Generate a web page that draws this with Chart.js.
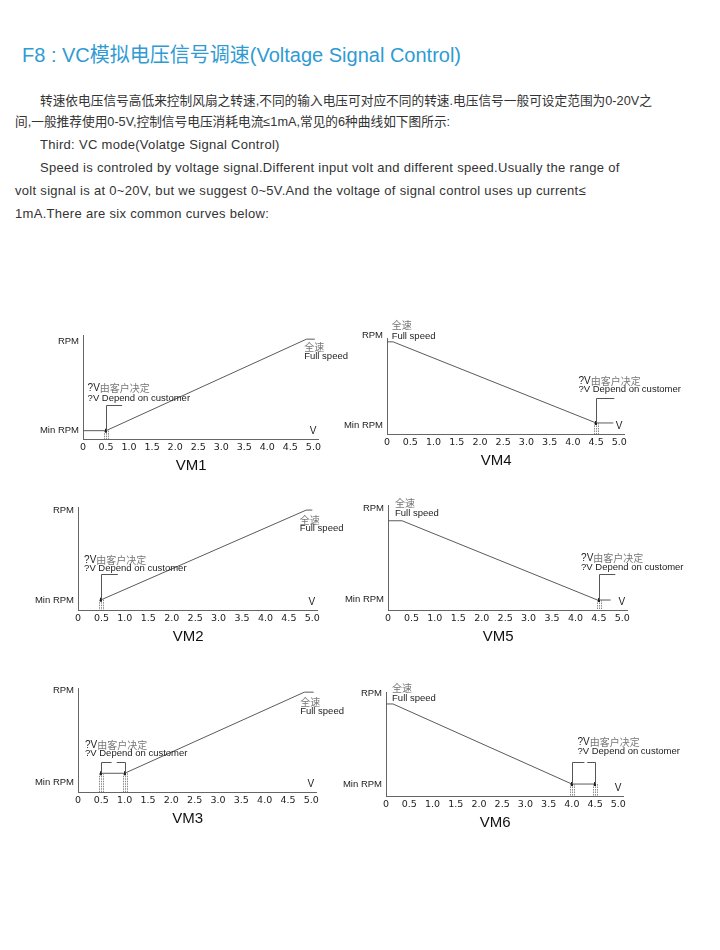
<!DOCTYPE html>
<html>
<head>
<meta charset="utf-8">
<title>VC mode curves</title>
<script src="https://cdn.jsdelivr.net/npm/chart.js@4.4.0/dist/chart.umd.min.js"></script>
<style>
  body { margin: 0; background: #fff; }
  #page { position: relative; width: 720px; height: 950px; overflow: hidden; font-family: "Liberation Sans", "Noto Sans CJK SC", sans-serif; }
  .h { position: absolute; left: 22px; top: 44px; font-size: 20px; line-height: 22px; color: #2f9bd3; white-space: nowrap; }
  .p { position: absolute; font-size: 13px; letter-spacing: 0.3px; line-height: 16px; color: #333; white-space: nowrap; }
  .cjk { font-size: 12.7px; letter-spacing: 0; }
  canvas { position: absolute; }
</style>
</head>
<body>
<div id="page">
  <div class="h">F8 : VC模拟电压信号调速(Voltage Signal Control)</div>
  <div class="p cjk" style="left:40px;top:93px">转速依电压信号高低来控制风扇之转速,不同的输入电压可对应不同的转速.电压信号一般可设定范围为0-20V之</div>
  <div class="p cjk" style="left:15px;top:114px">间,一般推荐使用0-5V,控制信号电压消耗电流≤1mA,常见的6种曲线如下图所示:</div>
  <div class="p" style="left:40px;top:137px">Third: VC mode(Volatge Signal Control)</div>
  <div class="p" style="left:40px;top:160px">Speed is controled by voltage signal.Different input volt and different speed.Usually the range of</div>
  <div class="p" style="left:15px;top:183px">volt signal is at 0~20V, but we suggest 0~5V.And the voltage of signal control uses up current≤</div>
  <div class="p" style="left:15px;top:206px">1mA.There are six common curves below:</div>
</div>
<script>
// Voltage axis shared by all six curves
const voltTicks = [0, 0.5, 1, 1.5, 2, 2.5, 3, 3.5, 4, 4.5, 5];
const voltLabels = ['0', '0.5', '1.0', '1.5', '2.0', '2.5', '3.0', '3.5', '4.0', '4.5', '5.0'];
const rpmLabels = ['Min RPM', 'RPM'];
const curveNames = ['VM1', 'VM2', 'VM3', 'VM4', 'VM5', 'VM6'];

// Curve breakpoints: volts and RPM (0 = axis, 100 = top of axis)
const vm1Volts = [0, 0.5, 4.85, 5.03];
const vm1Rpm = [8, 8, 96, 96];
const vm2Volts = [0.5, 4.87, 5.0];
const vm2Rpm = [10, 97, 97];
const vm3Volts = [0.5, 1.0, 4.85, 5.05];
const vm3Rpm = [18, 18, 96, 96];
const vm4Volts = [0, 0.13, 4.5, 4.87];
const vm4Rpm = [96, 96, 11.5, 11.5];
const vm5Volts = [0, 0.3, 4.47, 4.75];
const vm5Rpm = [85, 85, 9.5, 9.5];
const vm6Volts = [0, 0.15, 4.0, 4.5];
const vm6Rpm = [88.5, 88.5, 11.5, 11.5];

// Voltages set by the customer (hatched boxes)
const customVolts = [[0.5], [0.5], [0.5, 1.0], [4.5], [4.5], [4.0, 4.5]];
const minRpmLevel = [8, 10, 18, 11.5, 9.5, 11.5];

// Where the y axis labels sit
const minLabelAt = [8, 9, 9, 9.4, 10.5, 11.5];
const rpmLabelAt = [94, 97, 98, 103, 97, 99];

// Annotation texts
const noteCn = '由客户决定';
const noteEn = '?V Depend on customer';
const fullCn = '全速';
const fullEn = 'Full speed';

const series = [
    [vm1Volts, vm1Rpm], [vm2Volts, vm2Rpm], [vm3Volts, vm3Rpm],
    [vm4Volts, vm4Rpm], [vm5Volts, vm5Rpm], [vm6Volts, vm6Rpm]
];

// Page position of each plot area (axis corner) and px per volt
const frames = [
    { left: 83, top: 335, bottom: 439, ppv: 46.0 },
    { left: 78, top: 507, bottom: 610, ppv: 46.8 },
    { left: 78, top: 688, bottom: 792, ppv: 46.6 },
    { left: 387, top: 338, bottom: 434, ppv: 46.4 },
    { left: 388, top: 505, bottom: 610, ppv: 46.8 },
    { left: 386, top: 692, bottom: 796, ppv: 46.4 }
];

// Placement of leader lines and notes, in axis units
const notes = [
    { leaderTop: 33, leaderEnd: 0.85, noteX: 0.1, noteY: [49, 39], fullX: 4.8, fullY: [88.5, 79] },
    { leaderTop: 35, leaderEnd: 0.85, noteX: 0.13, noteY: [48.5, 40], fullX: 4.73, fullY: [87, 79] },
    { leaderTop: 29, gap: [0.72, 0.83], noteX: 0.15, noteY: [45, 37.5], fullX: 4.76, fullY: [86.5, 78] },
    { leaderTop: 37.5, leaderEnd: 4.89, noteX: 4.12, noteY: [55, 46], fullX: 0.1, fullY: [113, 102] },
    { leaderTop: 34, leaderEnd: 4.85, noteX: 4.12, noteY: [49.5, 41], fullX: 0.15, fullY: [102, 92.4] },
    { leaderTop: 32.7, gap: [4.27, 4.33], noteX: 4.12, noteY: [52, 43], fullX: 0.13, fullY: [104, 94] }
];

const PAD_L = 50, PAD_T = 22, PAD_R = 70, PAD_B = 40, X_MAX = 5.1;

Chart.defaults.font.family = '"Liberation Sans", sans-serif';

// Hatched box marking a customer voltage
function drawBox(ctx, px, top, bottom) {
    const cx = Math.round(px);
    ctx.save();
    ctx.strokeStyle = '#888';
    ctx.lineWidth = 1;
    ctx.setLineDash([1.5, 1]);
    [-2, 0, 2].forEach(dx => {
        ctx.beginPath();
        ctx.moveTo(cx + dx + 0.5, top);
        ctx.lineTo(cx + dx + 0.5, bottom);
        ctx.stroke();
    });
    ctx.restore();
    ctx.fillStyle = '#222';
    ctx.fillRect(cx - 1, top - 2, 2, 4);
}

function annotator(i) {
    const n = notes[i];
    return {
        id: 'annotate' + i,
        afterDraw(chart) {
            const { ctx, scales: { x, y } } = chart;
            const base = y.getPixelForValue(0);
            const top = y.getPixelForValue(minRpmLevel[i]);
            const cv = customVolts[i];
            ctx.save();
            cv.forEach(v => drawBox(ctx, x.getPixelForValue(v), top, base));

            // leader line / bracket
            ctx.strokeStyle = '#555';
            ctx.lineWidth = 1;
            const lt = Math.round(y.getPixelForValue(n.leaderTop)) + 0.5;
            ctx.beginPath();
            if (cv.length === 1) {
                const px = Math.round(x.getPixelForValue(cv[0])) + 0.5;
                ctx.moveTo(px, top);
                ctx.lineTo(px, lt);
                ctx.lineTo(x.getPixelForValue(n.leaderEnd), lt);
            } else {
                const a = Math.round(x.getPixelForValue(cv[0])) + 0.5;
                const b = Math.round(x.getPixelForValue(cv[1])) + 0.5;
                ctx.moveTo(a, top);
                ctx.lineTo(a, lt);
                ctx.lineTo(x.getPixelForValue(n.gap[0]), lt);
                ctx.moveTo(x.getPixelForValue(n.gap[1]), lt);
                ctx.lineTo(b, lt);
                ctx.lineTo(b, top);
            }
            ctx.stroke();

            ctx.textBaseline = 'middle';
            ctx.textAlign = 'left';

            // customer note
            const nx = x.getPixelForValue(n.noteX);
            ctx.font = '10px "Liberation Sans"';
            ctx.fillStyle = '#222';
            ctx.fillText('?V', nx, y.getPixelForValue(n.noteY[0]));
            const w = ctx.measureText('?V').width;
            ctx.font = '10px "Noto Sans CJK SC"';
            ctx.fillStyle = '#777';
            ctx.fillText(noteCn, nx + w, y.getPixelForValue(n.noteY[0]));
            ctx.font = '9.5px "Liberation Sans"';
            ctx.fillStyle = '#222';
            ctx.fillText(noteEn, nx, y.getPixelForValue(n.noteY[1]));

            // full speed note
            const fx = x.getPixelForValue(n.fullX);
            ctx.font = '10px "Noto Sans CJK SC"';
            ctx.fillStyle = '#777';
            ctx.fillText(fullCn, fx, y.getPixelForValue(n.fullY[0]));
            ctx.font = '9.5px "Liberation Sans"';
            ctx.fillStyle = '#222';
            ctx.fillText(fullEn, fx, y.getPixelForValue(n.fullY[1]));

            // axis unit and curve name
            ctx.font = '10px "Liberation Sans"';
            ctx.fillText('V', x.getPixelForValue(4.92), base - 8);
            ctx.font = '15px "Liberation Sans"';
            ctx.fillStyle = '#111';
            ctx.textAlign = 'center';
            ctx.fillText(curveNames[i], x.getPixelForValue(2.35), base + 27);
            ctx.restore();
        }
    };
}

const page = document.getElementById('page');

curveNames.forEach((name, i) => {
    const f = frames[i];
    const areaW = Math.round(X_MAX * f.ppv);
    const canvas = document.createElement('canvas');
    canvas.width = PAD_L + areaW + PAD_R;
    canvas.height = PAD_T + (f.bottom - f.top) + PAD_B;
    canvas.style.left = (f.left - PAD_L) + 'px';
    canvas.style.top = (f.top - PAD_T) + 'px';
    canvas.style.width = canvas.width + 'px';
    canvas.style.height = canvas.height + 'px';
    page.appendChild(canvas);

    const [volts, rpm] = series[i];

    new Chart(canvas, {
        type: 'line',
        data: {
            datasets: [{
                label: name,
                data: volts.map((v, k) => ({ x: v, y: rpm[k] })),
                borderColor: '#5a5a5a',
                borderWidth: 1,
                pointRadius: 0,
                tension: 0,
                fill: false
            }]
        },
        options: {
            responsive: false,
            animation: false,
            devicePixelRatio: 1,
            layout: { padding: { left: 0, right: PAD_R, top: PAD_T, bottom: 0 } },
            plugins: {
                legend: { display: false },
                tooltip: { enabled: false },
                title: { display: false }
            },
            scales: {
                x: {
                    type: 'linear',
                    min: 0,
                    max: X_MAX,
                    afterFit: s => { s.height = PAD_B; },
                    afterBuildTicks: s => { s.ticks = voltTicks.map(v => ({ value: v })); },
                    ticks: {
                        callback: (v, k) => voltLabels[k],
                        autoSkip: false,
                        maxRotation: 0,
                        padding: 3,
                        color: '#222',
                        font: { family: '"DejaVu Sans"', size: 9.5 }
                    },
                    grid: { display: false, drawTicks: false },
                    border: { display: true, color: '#666', width: 1 }
                },
                y: {
                    type: 'linear',
                    min: 0,
                    max: 100,
                    afterFit: s => { s.width = PAD_L; },
                    afterBuildTicks: s => {
                        s.ticks = [{ value: minLabelAt[i] }, { value: rpmLabelAt[i] }];
                    },
                    ticks: {
                        callback: (v, k) => rpmLabels[k],
                        padding: 4,
                        color: '#222',
                        font: { size: 9.5 }
                    },
                    grid: { display: false, drawTicks: false },
                    border: { display: true, color: '#666', width: 1 }
                }
            }
        },
        plugins: [annotator(i)]
    });
});
</script>
</body>
</html>
